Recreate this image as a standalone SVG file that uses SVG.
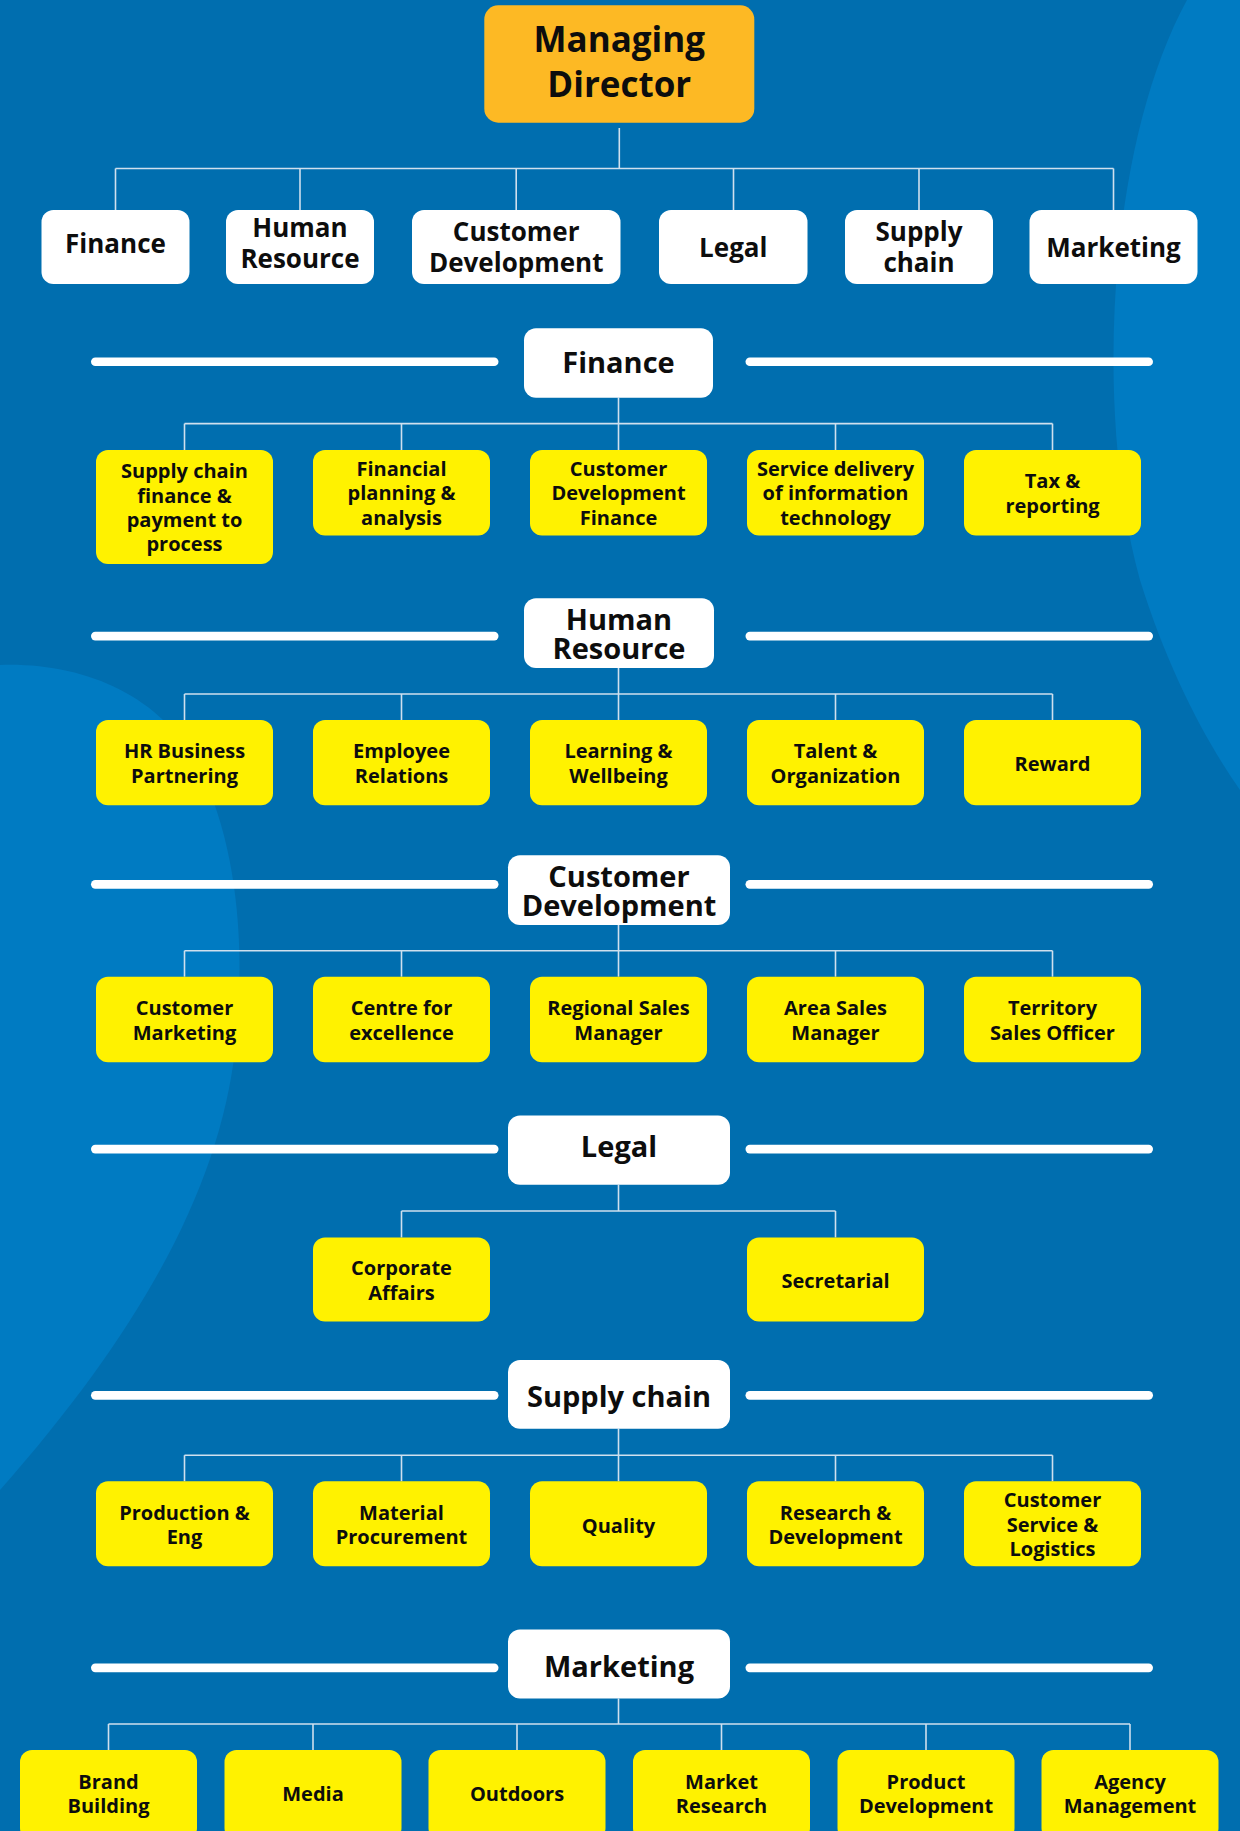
<svg xmlns="http://www.w3.org/2000/svg" width="1240" height="1831" viewBox="0 0 1240 1831">
<defs>
<style>
.md{fill:#FDB924}
.w{fill:#FFFFFF}
.y{fill:#FFF200}
.bar{fill:#FFFFFF}
text{font-family:"Open Sans","Liberation Sans",sans-serif;font-weight:700;fill:#0d0d0d;text-anchor:middle}
.t1{font-size:35px}
.t2{font-size:26px}
.t3{font-size:29px}
.t4{font-size:20px}
.conn line{stroke:#cfe0ee;stroke-width:1.6;fill:none}
</style>
</defs>
<rect x="0" y="0" width="1240" height="1831" fill="#006EAF"/>
<path d="M1187 0 C1105 150 1095 420 1140 580 C1168 670 1205 740 1240 790 L1240 0 Z" fill="#007BC2"/>
<path d="M0 665 C90 662 170 700 205 780 C240 860 245 960 235 1050 C220 1180 150 1320 0 1490 Z" fill="#007BC2"/>

<g id="connectors" class="conn">
<line x1="619.3" y1="128" x2="619.3" y2="168.5"/>
<line x1="115.5" y1="168.5" x2="1113.5" y2="168.5"/>
<line x1="115.5" y1="168.5" x2="115.5" y2="210"/>
<line x1="300" y1="168.5" x2="300" y2="210"/>
<line x1="516.2" y1="168.5" x2="516.2" y2="210"/>
<line x1="733.5" y1="168.5" x2="733.5" y2="210"/>
<line x1="919" y1="168.5" x2="919" y2="210"/>
<line x1="1113.5" y1="168.5" x2="1113.5" y2="210"/>

<line x1="618.5" y1="397.7" x2="618.5" y2="423.6"/>
<line x1="184.5" y1="423.6" x2="1052.5" y2="423.6"/>
<line x1="184.5" y1="423.6" x2="184.5" y2="450"/>
<line x1="401.5" y1="423.6" x2="401.5" y2="450"/>
<line x1="618.5" y1="423.6" x2="618.5" y2="450"/>
<line x1="835.5" y1="423.6" x2="835.5" y2="450"/>
<line x1="1052.5" y1="423.6" x2="1052.5" y2="450"/>

<line x1="618.5" y1="668" x2="618.5" y2="694"/>
<line x1="184.5" y1="694" x2="1052.5" y2="694"/>
<line x1="184.5" y1="694" x2="184.5" y2="720"/>
<line x1="401.5" y1="694" x2="401.5" y2="720"/>
<line x1="618.5" y1="694" x2="618.5" y2="720"/>
<line x1="835.5" y1="694" x2="835.5" y2="720"/>
<line x1="1052.5" y1="694" x2="1052.5" y2="720"/>

<line x1="618.5" y1="925" x2="618.5" y2="950.7"/>
<line x1="184.5" y1="950.7" x2="1052.5" y2="950.7"/>
<line x1="184.5" y1="950.7" x2="184.5" y2="976.7"/>
<line x1="401.5" y1="950.7" x2="401.5" y2="976.7"/>
<line x1="618.5" y1="950.7" x2="618.5" y2="976.7"/>
<line x1="835.5" y1="950.7" x2="835.5" y2="976.7"/>
<line x1="1052.5" y1="950.7" x2="1052.5" y2="976.7"/>

<line x1="618.5" y1="1184.8" x2="618.5" y2="1211"/>
<line x1="401.5" y1="1211" x2="835.5" y2="1211"/>
<line x1="401.5" y1="1211" x2="401.5" y2="1237.5"/>
<line x1="835.5" y1="1211" x2="835.5" y2="1237.5"/>

<line x1="618.5" y1="1428.7" x2="618.5" y2="1455.2"/>
<line x1="184.5" y1="1455.2" x2="1052.5" y2="1455.2"/>
<line x1="184.5" y1="1455.2" x2="184.5" y2="1481.3"/>
<line x1="401.5" y1="1455.2" x2="401.5" y2="1481.3"/>
<line x1="618.5" y1="1455.2" x2="618.5" y2="1481.3"/>
<line x1="835.5" y1="1455.2" x2="835.5" y2="1481.3"/>
<line x1="1052.5" y1="1455.2" x2="1052.5" y2="1481.3"/>

<line x1="618.5" y1="1698.6" x2="618.5" y2="1724"/>
<line x1="108.5" y1="1724" x2="1130" y2="1724"/>
<line x1="108.5" y1="1724" x2="108.5" y2="1750"/>
<line x1="313" y1="1724" x2="313" y2="1750"/>
<line x1="517" y1="1724" x2="517" y2="1750"/>
<line x1="721.5" y1="1724" x2="721.5" y2="1750"/>
<line x1="926" y1="1724" x2="926" y2="1750"/>
<line x1="1130" y1="1724" x2="1130" y2="1750"/>
</g>

<g id="bars">
<rect class="bar" x="91" y="357.4" width="407.5" height="8.7" rx="4.35"/>
<rect class="bar" x="745.5" y="357.4" width="407.5" height="8.7" rx="4.35"/>
<rect class="bar" x="91" y="631.7" width="407.5" height="8.7" rx="4.35"/>
<rect class="bar" x="745.5" y="631.7" width="407.5" height="8.7" rx="4.35"/>
<rect class="bar" x="91" y="880" width="407.5" height="8.7" rx="4.35"/>
<rect class="bar" x="745.5" y="880" width="407.5" height="8.7" rx="4.35"/>
<rect class="bar" x="91" y="1144.7" width="407.5" height="8.7" rx="4.35"/>
<rect class="bar" x="745.5" y="1144.7" width="407.5" height="8.7" rx="4.35"/>
<rect class="bar" x="91" y="1391" width="407.5" height="8.7" rx="4.35"/>
<rect class="bar" x="745.5" y="1391" width="407.5" height="8.7" rx="4.35"/>
<rect class="bar" x="91" y="1663.5" width="407.5" height="8.7" rx="4.35"/>
<rect class="bar" x="745.5" y="1663.5" width="407.5" height="8.7" rx="4.35"/>
</g>

<g id="managing-director">
<rect class="md" x="484.3" y="5.3" width="270" height="117.4" rx="14"/>
<text class="t1" x="619.3" y="51.7">Managing</text>
<text class="t1" x="619.3" y="97.3">Director</text>
</g>

<g id="l1-finance"><rect class="w" x="41.5" y="210" width="148" height="74" rx="12"/><text class="t2" x="115.5" y="253.3">Finance</text></g>
<g id="l1-human-resource"><rect class="w" x="226" y="210" width="148" height="74" rx="12"/><text class="t2" x="300" y="237.3">Human</text><text class="t2" x="300" y="268.3">Resource</text></g>
<g id="l1-customer-development"><rect class="w" x="412" y="210" width="208.5" height="74" rx="12"/><text class="t2" x="516.2" y="241">Customer</text><text class="t2" x="516.2" y="271.7">Development</text></g>
<g id="l1-legal"><rect class="w" x="659" y="210" width="148.5" height="74" rx="12"/><text class="t2" x="733.3" y="256.7">Legal</text></g>
<g id="l1-supply-chain"><rect class="w" x="845" y="210" width="148" height="74" rx="12"/><text class="t2" x="919" y="241">Supply</text><text class="t2" x="919" y="271.7">chain</text></g>
<g id="l1-marketing"><rect class="w" x="1029.5" y="210" width="168" height="74" rx="12"/><text class="t2" x="1113.5" y="257.3">Marketing</text></g>

<g id="h-finance"><rect class="w" x="524" y="328.3" width="189" height="69.4" rx="12"/><text class="t3" x="618.5" y="372.7">Finance</text></g>
<g id="fin-1"><rect class="y" x="96" y="450" width="177" height="114" rx="12"/><text class="t4" x="184.5" y="478.3">Supply chain</text><text class="t4" x="184.5" y="502.7">finance &amp;</text><text class="t4" x="184.5" y="527">payment to</text><text class="t4" x="184.5" y="551.4">process</text></g>
<g id="fin-2"><rect class="y" x="313" y="450" width="177" height="85.5" rx="12"/><text class="t4" x="401.5" y="476">Financial</text><text class="t4" x="401.5" y="500.3">planning &amp;</text><text class="t4" x="401.5" y="524.7">analysis</text></g>
<g id="fin-3"><rect class="y" x="530" y="450" width="177" height="85.5" rx="12"/><text class="t4" x="618.5" y="476">Customer</text><text class="t4" x="618.5" y="500.3">Development</text><text class="t4" x="618.5" y="524.7">Finance</text></g>
<g id="fin-4"><rect class="y" x="747" y="450" width="177" height="85.5" rx="12"/><text class="t4" x="835.5" y="476">Service delivery</text><text class="t4" x="835.5" y="500.3">of information</text><text class="t4" x="835.5" y="524.7">technology</text></g>
<g id="fin-5"><rect class="y" x="964" y="450" width="177" height="85.5" rx="12"/><text class="t4" x="1052.5" y="488.3">Tax &amp;</text><text class="t4" x="1052.5" y="512.7">reporting</text></g>

<g id="h-human-resource"><rect class="w" x="524" y="598.3" width="190" height="69.7" rx="12"/><text class="t3" x="619" y="630">Human</text><text class="t3" x="619" y="659">Resource</text></g>
<g id="hr-1"><rect class="y" x="96" y="720" width="177" height="85.3" rx="12"/><text class="t4" x="184.5" y="758.3">HR Business</text><text class="t4" x="184.5" y="782.7">Partnering</text></g>
<g id="hr-2"><rect class="y" x="313" y="720" width="177" height="85.3" rx="12"/><text class="t4" x="401.5" y="758.3">Employee</text><text class="t4" x="401.5" y="782.7">Relations</text></g>
<g id="hr-3"><rect class="y" x="530" y="720" width="177" height="85.3" rx="12"/><text class="t4" x="618.5" y="758.3">Learning &amp;</text><text class="t4" x="618.5" y="782.7">Wellbeing</text></g>
<g id="hr-4"><rect class="y" x="747" y="720" width="177" height="85.3" rx="12"/><text class="t4" x="835.5" y="758.3">Talent &amp;</text><text class="t4" x="835.5" y="782.7">Organization</text></g>
<g id="hr-5"><rect class="y" x="964" y="720" width="177" height="85.3" rx="12"/><text class="t4" x="1052.5" y="770.5">Reward</text></g>

<g id="h-customer-development"><rect class="w" x="508" y="855.3" width="222" height="69.7" rx="12"/><text class="t3" x="619" y="886.7">Customer</text><text class="t3" x="619" y="915.7">Development</text></g>
<g id="cd-1"><rect class="y" x="96" y="976.7" width="177" height="85.6" rx="12"/><text class="t4" x="184.5" y="1015.3">Customer</text><text class="t4" x="184.5" y="1039.7">Marketing</text></g>
<g id="cd-2"><rect class="y" x="313" y="976.7" width="177" height="85.6" rx="12"/><text class="t4" x="401.5" y="1015.3">Centre for</text><text class="t4" x="401.5" y="1039.7">excellence</text></g>
<g id="cd-3"><rect class="y" x="530" y="976.7" width="177" height="85.6" rx="12"/><text class="t4" x="618.5" y="1015.3">Regional Sales</text><text class="t4" x="618.5" y="1039.7">Manager</text></g>
<g id="cd-4"><rect class="y" x="747" y="976.7" width="177" height="85.6" rx="12"/><text class="t4" x="835.5" y="1015.3">Area Sales</text><text class="t4" x="835.5" y="1039.7">Manager</text></g>
<g id="cd-5"><rect class="y" x="964" y="976.7" width="177" height="85.6" rx="12"/><text class="t4" x="1052.5" y="1015.3">Territory</text><text class="t4" x="1052.5" y="1039.7">Sales Officer</text></g>

<g id="h-legal"><rect class="w" x="508" y="1115.4" width="222" height="69.4" rx="12"/><text class="t3" x="619" y="1157">Legal</text></g>
<g id="legal-1"><rect class="y" x="313" y="1237.5" width="177" height="84" rx="12"/><text class="t4" x="401.5" y="1275.3">Corporate</text><text class="t4" x="401.5" y="1299.7">Affairs</text></g>
<g id="legal-2"><rect class="y" x="747" y="1237.5" width="177" height="84" rx="12"/><text class="t4" x="835.5" y="1287.5">Secretarial</text></g>

<g id="h-supply-chain"><rect class="w" x="508" y="1360" width="222" height="68.7" rx="12"/><text class="t3" x="619" y="1406.5">Supply chain</text></g>
<g id="sc-1"><rect class="y" x="96" y="1481.3" width="177" height="85" rx="12"/><text class="t4" x="184.5" y="1519.5">Production &amp;</text><text class="t4" x="184.5" y="1544">Eng</text></g>
<g id="sc-2"><rect class="y" x="313" y="1481.3" width="177" height="85" rx="12"/><text class="t4" x="401.5" y="1519.5">Material</text><text class="t4" x="401.5" y="1544">Procurement</text></g>
<g id="sc-3"><rect class="y" x="530" y="1481.3" width="177" height="85" rx="12"/><text class="t4" x="618.5" y="1532.6">Quality</text></g>
<g id="sc-4"><rect class="y" x="747" y="1481.3" width="177" height="85" rx="12"/><text class="t4" x="835.5" y="1519.5">Research &amp;</text><text class="t4" x="835.5" y="1544">Development</text></g>
<g id="sc-5"><rect class="y" x="964" y="1481.3" width="177" height="85" rx="12"/><text class="t4" x="1052.5" y="1507">Customer</text><text class="t4" x="1052.5" y="1531.5">Service &amp;</text><text class="t4" x="1052.5" y="1556">Logistics</text></g>

<g id="h-marketing"><rect class="w" x="508" y="1629.6" width="222" height="69" rx="12"/><text class="t3" x="619" y="1677">Marketing</text></g>
<g id="mk-1"><rect class="y" x="20" y="1750" width="177" height="90" rx="12"/><text class="t4" x="108.5" y="1789">Brand</text><text class="t4" x="108.5" y="1813.3">Building</text></g>
<g id="mk-2"><rect class="y" x="224.5" y="1750" width="177" height="90" rx="12"/><text class="t4" x="313" y="1800.7">Media</text></g>
<g id="mk-3"><rect class="y" x="428.5" y="1750" width="177" height="90" rx="12"/><text class="t4" x="517" y="1800.7">Outdoors</text></g>
<g id="mk-4"><rect class="y" x="633" y="1750" width="177" height="90" rx="12"/><text class="t4" x="721.5" y="1789">Market</text><text class="t4" x="721.5" y="1813.3">Research</text></g>
<g id="mk-5"><rect class="y" x="837.5" y="1750" width="177" height="90" rx="12"/><text class="t4" x="926" y="1789">Product</text><text class="t4" x="926" y="1813.3">Development</text></g>
<g id="mk-6"><rect class="y" x="1041.5" y="1750" width="177" height="90" rx="12"/><text class="t4" x="1130" y="1789">Agency</text><text class="t4" x="1130" y="1813.3">Management</text></g>
</svg>
